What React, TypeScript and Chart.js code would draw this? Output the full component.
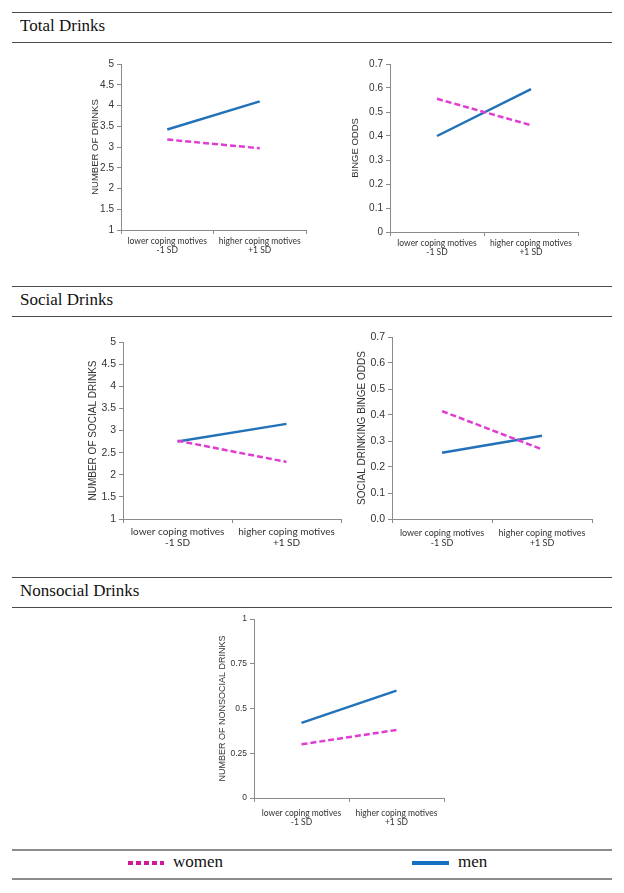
import React, { useEffect, useRef } from "react";
import { Chart, registerables } from "chart.js";
Chart.register(...registerables);

// ---------- data ----------
const categories = [
  ["lower coping motives", "-1 SD"],
  ["higher coping motives", "+1 SD"],
];
const totalDrinksWomen = [3.18, 2.97];
const totalDrinksMen = [3.42, 4.1];
const bingeOddsWomen = [0.555, 0.445];
const bingeOddsMen = [0.4, 0.595];
const socialDrinksWomen = [2.77, 2.29];
const socialDrinksMen = [2.75, 3.15];
const socialBingeWomen = [0.415, 0.268];
const socialBingeMen = [0.255, 0.32];
const nonsocialWomen = [0.3, 0.38];
const nonsocialMen = [0.42, 0.6];

const drinksTicks = [1, 1.5, 2, 2.5, 3, 3.5, 4, 4.5, 5];
const oddsTicks = [0, 0.1, 0.2, 0.3, 0.4, 0.5, 0.6, 0.7];
const nonsocialTicks = [0, 0.25, 0.5, 0.75, 1];

const WOMEN_COLOR = "#e03cd4";
const MEN_COLOR = "#2272b9";
const AXIS_COLOR = "#8a8a8a";
const TEXT_COLOR = "#333333";

const PT = 12;
const PR = 16;
const XH = 36;

type Box = { l: number; t: number; r: number; b: number };

type PanelProps = {
  box: Box;
  yw: number;
  yTitle: string;
  titleSize: number;
  tickSize: number;
  xSize: number;
  xPad: number;
  ticks: number[];
  fmt?: (v: number) => string;
  women: number[];
  men: number[];
};

function Panel(p: PanelProps) {
  const ref = useRef<HTMLCanvasElement | null>(null);
  const left = p.box.l - p.yw;
  const top = p.box.t - PT;
  const width = p.box.r - p.box.l + p.yw + PR;
  const height = p.box.b - p.box.t + PT + XH;

  useEffect(() => {
    if (!ref.current) return;
    const chart = new Chart(ref.current, {
      type: "line",
      data: {
        labels: categories,
        datasets: [
          {
            label: "women",
            data: p.women,
            borderColor: WOMEN_COLOR,
            borderWidth: 2.5,
            borderDash: [6, 3],
            pointRadius: 0,
            fill: false,
          },
          {
            label: "men",
            data: p.men,
            borderColor: MEN_COLOR,
            borderWidth: 2.5,
            pointRadius: 0,
            fill: false,
          },
        ],
      },
      options: {
        responsive: false,
        animation: false,
        devicePixelRatio: 1,
        layout: { padding: { top: PT, right: PR, left: 0, bottom: 0 } },
        plugins: { legend: { display: false }, tooltip: { enabled: false } },
        scales: {
          x: {
            type: "category",
            offset: true,
            grid: {
              display: true,
              drawOnChartArea: false,
              drawTicks: true,
              tickLength: 4,
              color: AXIS_COLOR,
              offset: true,
            },
            border: { display: true, color: AXIS_COLOR, width: 1 },
            ticks: {
              color: TEXT_COLOR,
              font: { family: "Lato", size: p.xSize, lineHeight: 1.15 },
              padding: p.xPad,
              maxRotation: 0,
              autoSkip: false,
            },
            afterFit: (s: any) => {
              s.height = XH;
            },
          },
          y: {
            type: "linear",
            min: p.ticks[0],
            max: p.ticks[p.ticks.length - 1],
            afterBuildTicks: (s: any) => {
              s.ticks = p.ticks.map((v) => ({ value: v }));
            },
            grid: {
              display: true,
              drawOnChartArea: false,
              drawTicks: true,
              tickLength: 4,
              color: AXIS_COLOR,
            },
            border: { display: true, color: AXIS_COLOR, width: 1 },
            ticks: {
              color: TEXT_COLOR,
              font: { family: "Liberation Sans", size: p.tickSize },
              padding: 3,
              callback: (v: any) => (p.fmt ? p.fmt(Number(v)) : String(Number(v))),
            },
            title: {
              display: true,
              text: p.yTitle,
              color: TEXT_COLOR,
              font: { family: "Liberation Sans", size: p.titleSize, lineHeight: 1.2 },
              padding: 0,
            },
            afterFit: (s: any) => {
              s.width = p.yw;
            },
          },
        },
      },
    } as any);
    return () => chart.destroy();
  }, []);

  return (
    <canvas
      ref={ref}
      width={width}
      height={height}
      style={{ position: "absolute", left, top, width, height }}
    />
  );
}

const serif = "Liberation Serif, Times New Roman, serif";

function Header({ top, bottom, text }: { top: number; bottom: number; text: string }) {
  return (
    <div
      style={{
        position: "absolute",
        left: 12,
        top,
        width: 600,
        height: bottom - top,
        borderTop: "1px solid #4a4a4a",
        borderBottom: "1px solid #4a4a4a",
        display: "flex",
        alignItems: "center",
        boxSizing: "border-box",
      }}
    >
      <span
        style={{
          marginLeft: 8,
          fontFamily: serif,
          fontSize: 17,
          color: "#111",
          marginTop: -3,
        }}
      >
        {text}
      </span>
    </div>
  );
}

export default function App() {
  return (
    <div style={{ position: "absolute", left: 0, top: 0, width: 624, height: 893, background: "#fff" }}>
      <Header top={12} bottom={43} text="Total Drinks" />
      <Panel
        box={{ l: 121, t: 64, r: 306, b: 230 }}
        yw={31}
        yTitle="NUMBER OF DRINKS"
        titleSize={9.5}
        tickSize={10}
        xSize={8.5}
        xPad={2}
        ticks={drinksTicks}
        women={totalDrinksWomen}
        men={totalDrinksMen}
      />
      <Panel
        box={{ l: 390, t: 64, r: 578, b: 232 }}
        yw={40}
        yTitle="BINGE ODDS"
        titleSize={9.5}
        tickSize={10}
        xSize={8.5}
        xPad={2}
        ticks={oddsTicks}
        women={bingeOddsWomen}
        men={bingeOddsMen}
      />
      <Header top={286} bottom={317} text="Social Drinks" />
      <Panel
        box={{ l: 123, t: 342, r: 341, b: 519 }}
        yw={36}
        yTitle="NUMBER OF SOCIAL DRINKS"
        titleSize={10}
        tickSize={10.5}
        xSize={10}
        xPad={3}
        ticks={drinksTicks}
        women={socialDrinksWomen}
        men={socialDrinksMen}
      />
      <Panel
        box={{ l: 392, t: 337, r: 592, b: 519 }}
        yw={36}
        yTitle="SOCIAL DRINKING BINGE ODDS"
        titleSize={10}
        tickSize={10.5}
        xSize={9}
        xPad={5}
        ticks={oddsTicks}
        fmt={(v) => v.toFixed(1)}
        women={socialBingeWomen}
        men={socialBingeMen}
      />
      <Header top={577} bottom={608} text="Nonsocial Drinks" />
      <Panel
        box={{ l: 254, t: 619, r: 444, b: 798 }}
        yw={37}
        yTitle="NUMBER OF NONSOCIAL DRINKS"
        titleSize={9}
        tickSize={8.5}
        xSize={8.5}
        xPad={6}
        ticks={nonsocialTicks}
        women={nonsocialWomen}
        men={nonsocialMen}
      />
      {/* legend */}
      <div
        style={{
          position: "absolute",
          left: 12,
          top: 849,
          width: 600,
          height: 31,
          borderTop: "2px solid #8c8c8c",
          borderBottom: "2px solid #8c8c8c",
          boxSizing: "border-box",
        }}
      />
      <div
        style={{
          position: "absolute",
          left: 128,
          top: 861,
          width: 36,
          height: 4,
          background:
            "repeating-linear-gradient(90deg, #cc1a99 0px, #cc1a99 5px, transparent 5px, transparent 8px)",
        }}
      />
      <div
        style={{
          position: "absolute",
          left: 173,
          top: 852,
          fontFamily: serif,
          fontSize: 17,
          color: "#111",
          lineHeight: "20px",
        }}
      >
        women
      </div>
      <div
        style={{
          position: "absolute",
          left: 412,
          top: 861,
          width: 37,
          height: 4,
          background: "#1570c0",
        }}
      />
      <div
        style={{
          position: "absolute",
          left: 458,
          top: 852,
          fontFamily: serif,
          fontSize: 17,
          color: "#111",
          lineHeight: "20px",
        }}
      >
        men
      </div>
    </div>
  );
}
